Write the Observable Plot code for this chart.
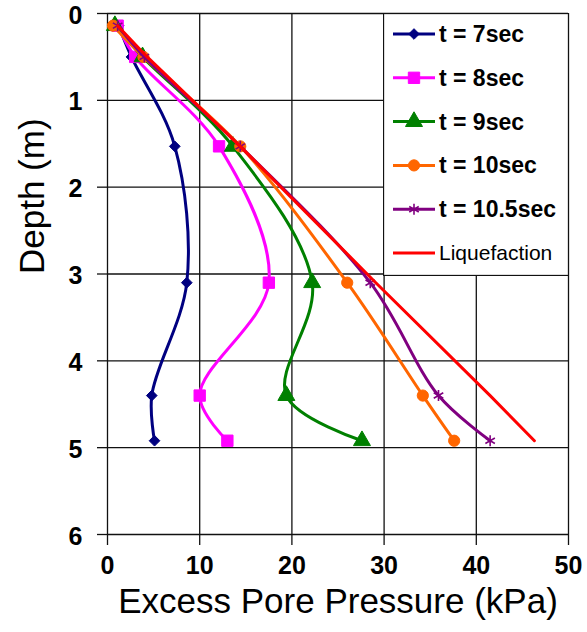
<!DOCTYPE html>
<html><head><meta charset="utf-8">
<script src="https://cdn.jsdelivr.net/npm/d3@7"></script>
<script src="https://cdn.jsdelivr.net/npm/@observablehq/plot@0.6"></script>
<style>
body{margin:0;background:#fff;font-family:"Liberation Sans",Arial,sans-serif}
#wrap{position:relative;width:587px;height:632px}
#legend{position:absolute;left:383px;top:13px}
</style>
</head><body><div id="wrap"></div>
<script>
// ---- data ----
const depths = [0.14, 0.5, 1.53, 3.1, 4.4, 4.92];
const seriesNames = ["t = 7sec", "t = 8sec", "t = 9sec", "t = 10sec", "t = 10.5sec", "Liquefaction"];
const p7   = [1.2, 2.6, 7.3, 8.6, 4.8, 5.1];
const p8   = [1.1, 3.0, 12.1, 17.5, 10.0, 13.0];
const p9   = [0.8, 3.8, 13.6, 22.2, 19.4, 27.6];
const p10  = [0.6, 3.9, 14.4, 26.0, 34.2, 37.6];
const p105 = [1.1, 4.0, 14.4, 28.5, 35.9, 41.5];
const liq  = [1.1, 4.3, 14.4, 29.1, 41.5, 46.3];
const xTicks = [0, 10, 20, 30, 40, 50];
const yTicks = [0, 1, 2, 3, 4, 5, 6];
const xTitle = "Excess Pore Pressure (kPa)";
const yTitle = "Depth (m)";

// ---- styles ----
const colors  = ["#000080", "#FF00FF", "#008000", "#FF6600", "#800080", "#FF0000"];
const symbols = ["diamond2", "square", "triangle", "circle", "asterisk", null];
const sizes   = [4.8, 6.4, 6.3, 5.6, 5.2, 0];

const values = [p7, p8, p9, p10, p105, liq];
const series = values.map((vals, i) => vals.map((v, j) => ({series: seriesNames[i], pressure: v, depth: depths[j]})));

const marks = [
  Plot.gridX(xTicks, {stroke: "#111", strokeOpacity: 1, strokeWidth: 1.3}),
  Plot.gridY(yTicks, {stroke: "#111", strokeOpacity: 1, strokeWidth: 1.3}),
  Plot.axisX({ticks: xTicks, tickFormat: d3.format("d"), tickSize: 11, tickPadding: 11, fontSize: 25, fontWeight: "bold", label: null, stroke: "#111", strokeWidth: 1.3, fill: "#000"}),
  Plot.axisY({ticks: yTicks, tickSize: 10, text: null, label: null, stroke: "#111", strokeWidth: 1.3}),
  Plot.axisY({ticks: yTicks, tickFormat: d3.format("d"), tickSize: 0, tickPadding: 25, fontSize: 25, fontWeight: "bold", label: null, fill: "#000", dy: 2}),
  Plot.text([xTitle], {frameAnchor: "bottom", dy: 78, fontSize: 35, text: d => d, fill: "#000"}),
  Plot.text([yTitle], {frameAnchor: "left", dx: -75, rotate: -90, fontSize: 35, text: d => d, fill: "#000"})
];
series.forEach((data, i) => {
  const isLiq = symbols[i] === null;
  marks.push(Plot.line(data, {x: "pressure", y: "depth", stroke: colors[i], strokeWidth: 3, curve: isLiq ? "linear" : "catmull-rom"}));
  if (!isLiq) {
    const sym = symbols[i];
    marks.push(Plot.dot(data, {x: "pressure", y: "depth", symbol: () => sym, r: sizes[i],
      fill: sym === "asterisk" ? "none" : colors[i], stroke: colors[i], strokeWidth: sym === "asterisk" ? 1.6 : 1}));
  }
});

const chart = Plot.plot({
  width: 587, height: 632,
  marginLeft: 107, marginRight: 19, marginTop: 13, marginBottom: 98,
  style: {fontFamily: "'Liberation Sans', Arial, sans-serif", background: "#fff", overflow: "visible"},
  x: {domain: [0, 50], axis: null},
  y: {domain: [0, 6], reverse: true, axis: null},
  symbol: {type: "identity"},
  marks
});
const wrap = document.getElementById("wrap");
wrap.appendChild(chart);

// ---- legend overlay ----
const lw = 186, lh = 263;
const leg = d3.select(wrap).append("svg").attr("id", "legend").attr("width", lw).attr("height", lh)
  .style("font-family", "'Liberation Sans', Arial, sans-serif");
leg.append("rect").attr("x", 0.5).attr("y", 0.5).attr("width", lw - 1).attr("height", lh - 1)
  .attr("fill", "#fff").attr("stroke", "#111").attr("stroke-width", 1.3);
const symMap = {diamond2: d3.symbolDiamond2, square: d3.symbolSquare, triangle: d3.symbolTriangle, circle: d3.symbolCircle, asterisk: d3.symbolAsterisk};
seriesNames.forEach((name, i) => {
  const cy = 21 + i * 43.8;
  const g = leg.append("g").attr("transform", `translate(0,${cy})`);
  g.append("line").attr("x1", 10).attr("x2", 52).attr("y1", 0).attr("y2", 0).attr("stroke", colors[i]).attr("stroke-width", 3);
  if (symbols[i]) {
    const s = symbols[i];
    g.append("path").attr("transform", "translate(31,0)")
      .attr("d", d3.symbol(symMap[s], Math.PI * sizes[i] * sizes[i])())
      .attr("fill", s === "asterisk" ? "none" : colors[i]).attr("stroke", colors[i]).attr("stroke-width", s === "asterisk" ? 1.6 : 1);
  }
  const isLiq = symbols[i] === null;
  g.append("text").attr("x", 56).attr("y", 0).attr("dy", "0.35em")
    .attr("font-size", isLiq ? 21 : 23).attr("font-weight", isLiq ? "normal" : "bold").attr("fill", "#000").text(name);
});
</script>
</body></html>
